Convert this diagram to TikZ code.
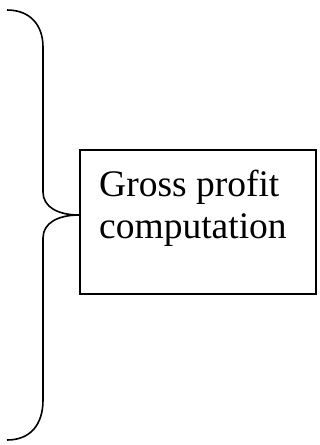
\documentclass[tikz,border=0pt]{standalone}
\usepackage{fontspec}
\setmainfont{Liberation Serif}
\usetikzlibrary{positioning}

\begin{document}
\begin{tikzpicture}[
    x=1pt, y=-1pt,
    result/.style={rectangle, draw=black, line width=1.6pt, fill=none,
        minimum width=236pt, minimum height=144pt, anchor=north west, inner sep=0pt},
    answer/.style={rectangle, draw=none, fill=none, align=left, anchor=base west,
        inner sep=0pt, text=black, font=\fontsize{37.5}{42}\selectfont},
    brace/.style={draw=black, line width=1.6pt}
]
\useasboundingbox (0,0) rectangle (320,445);
\node (Box01) [result] at (79,149) {};
\node (Txt01) [answer] at (99,238) {Gross profit\\computation};
\coordinate (Tip01) at (Box01.west |- 0,215);
% the brace on the left
\draw [brace] (7,10) .. controls (30,10) and (43,25) .. (43,47) -- (43,192)
    .. controls (43,207) and (58,215) .. (Tip01)
    .. controls (58,215) and (43,223) .. (43,238) -- (43,400)
    .. controls (43,425) and (30,440) .. (7,440);
\end{tikzpicture}
\end{document}
